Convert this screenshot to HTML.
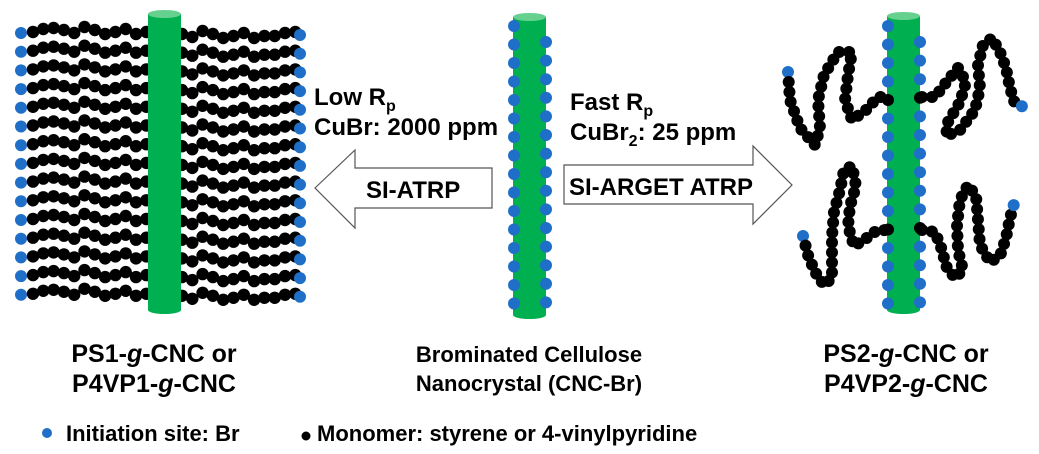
<!DOCTYPE html>
<html><head><meta charset="utf-8"><style>
html,body{margin:0;padding:0;background:#fff;}
svg{display:block;}
text{font-family:"Liberation Sans",Arial,sans-serif;font-weight:bold;fill:#000;}
</style></head><body>
<svg id="s" width="1039" height="454" viewBox="0 0 1039 454" xmlns="http://www.w3.org/2000/svg">
<g id="left"></g>
<rect x="148" y="14" width="33" height="296" fill="#00b050"/>
<ellipse cx="164.5" cy="14" rx="16.5" ry="4" fill="#66d08f"/>
<ellipse cx="164.5" cy="310" rx="16.5" ry="4" fill="#00b050"/>
<rect x="513" y="17" width="33" height="298" fill="#00b050"/>
<ellipse cx="529.5" cy="17" rx="16.5" ry="4" fill="#66d08f"/>
<ellipse cx="529.5" cy="315" rx="16.5" ry="4" fill="#00b050"/>
<rect x="887" y="16" width="33" height="294" fill="#00b050"/>
<ellipse cx="903.5" cy="16" rx="16.5" ry="4" fill="#66d08f"/>
<ellipse cx="903.5" cy="310" rx="16.5" ry="4" fill="#00b050"/>
<g id="dots"></g>
<polygon points="315,188 355,150 355,168 492,168 492,208 355,208 355,228" fill="#fff" stroke="#555" stroke-width="1.2"/>
<polygon points="564,165 753,165 753,146 792,185 753,224 753,204 564,204" fill="#fff" stroke="#555" stroke-width="1.2"/>
<text x="366" y="198" font-size="24">SI-ATRP</text>
<text x="569" y="195" font-size="24">SI-ARGET ATRP</text>
<text x="314" y="105" font-size="24">Low R<tspan font-size="16" dy="6">p</tspan></text>
<text x="314" y="135" font-size="24">CuBr: 2000 ppm</text>
<text x="570" y="110" font-size="24">Fast R<tspan font-size="16" dy="6">p</tspan></text>
<text x="570" y="140" font-size="24">CuBr<tspan font-size="16" dy="6">2</tspan><tspan dy="-6">: 25 ppm</tspan></text>
<g font-size="25">
<text x="154" y="362" text-anchor="middle">PS1-<tspan font-style="italic">g</tspan>-CNC or</text>
<text x="154" y="392" text-anchor="middle">P4VP1-<tspan font-style="italic">g</tspan>-CNC</text>
<text x="906" y="362" text-anchor="middle">PS2-<tspan font-style="italic">g</tspan>-CNC or</text>
<text x="906" y="392" text-anchor="middle">P4VP2-<tspan font-style="italic">g</tspan>-CNC</text>
</g>
<text x="529" y="362" text-anchor="middle" font-size="22">Brominated Cellulose</text>
<text x="529" y="391" text-anchor="middle" font-size="22">Nanocrystal (CNC-Br)</text>
<circle cx="47" cy="433" r="5" fill="#1f6fc8"/>
<text x="66" y="441" font-size="22">Initiation site: Br</text>
<circle cx="306" cy="436" r="4.5" fill="#000"/>
<text x="317" y="441" font-size="22">Monomer: styrene or 4-vinylpyridine</text>
</svg>
<script>
var NS="http://www.w3.org/2000/svg";
var L=document.getElementById("left"),D=document.getElementById("dots");
function c(g,x,y,col,r){var e=document.createElementNS(NS,"circle");e.setAttribute("cx",x);e.setAttribute("cy",y);e.setAttribute("r",r||6);e.setAttribute("fill",col);g.appendChild(e);}
var B="#1f6fc8",K="#000";
var off=[1,-2,-3,-1,2,-4,-1,3,1,-2,3,1];
for(var i=0;i<15;i++){
  var y=31+i*18.7;
  c(L,21,y+2,B);
  for(var j=0;j<12;j++) c(L,33+j*10.3,y+off[j],K,6.2);
  var y2=y+4;
  for(var j=0;j<12;j++) c(L,182+j*10.3,y2+off[(j+3)%12],K,6.2);
  c(L,300,y2,B);
}
for(var i=0;i<16;i++){c(D,514,26+i*18.5,B);}
for(var i=0;i<15;i++){c(D,546,42+i*18.6,B);}
for(var i=0;i<16;i++){var y=26+i*18.5; c(D,888,y,(Math.abs(y-97)<6||Math.abs(y-230)<6)?K:B);}
for(var i=0;i<15;i++){var y=42+i*18.6; c(D,920,y,(Math.abs(y-97)<6||Math.abs(y-230)<6)?K:B);}
function chain(pts,blueStart){
  var out=[];out.push(pts[0]);
  var step=10,carry=0;
  for(var k=1;k<pts.length;k++){
    var a=pts[k-1],b=pts[k],dx=b[0]-a[0],dy=b[1]-a[1],len=Math.hypot(dx,dy);
    var t=step-carry;
    while(t<=len){out.push([a[0]+dx*t/len,a[1]+dy*t/len]);t+=step;}
    carry=len-(t-step);
  }
  out.forEach(function(p,idx){
    var isB = blueStart? idx==0 : idx==out.length-1;
    c(D,p[0],p[1],isB?B:K,6);
  });
}
chain([[788,72],[790,100],[800,128],[815,145],[820,128],[818,100],[824,75],[838,52],[852,52],[848,75],[845,100],[852,120],[866,110],[878,97],[886,97]],true);
chain([[922,97],[935,97],[948,80],[958,68],[966,82],[960,102],[948,122],[946,136],[960,130],[975,110],[980,88],[978,65],[983,45],[992,38],[1000,52],[1006,68],[1010,88],[1015,104],[1024,107]],false);
chain([[803,236],[808,255],[815,272],[824,285],[832,278],[832,258],[832,236],[834,212],[840,190],[844,170],[852,166],[856,186],[850,206],[848,226],[854,246],[864,240],[876,231],[886,230]],true);
chain([[922,230],[935,232],[942,250],[946,266],[955,278],[963,270],[958,250],[957,225],[960,200],[968,185],[976,196],[978,220],[980,245],[990,262],[1000,256],[1006,238],[1010,218],[1016,197]],false);
</script>
</body></html>
